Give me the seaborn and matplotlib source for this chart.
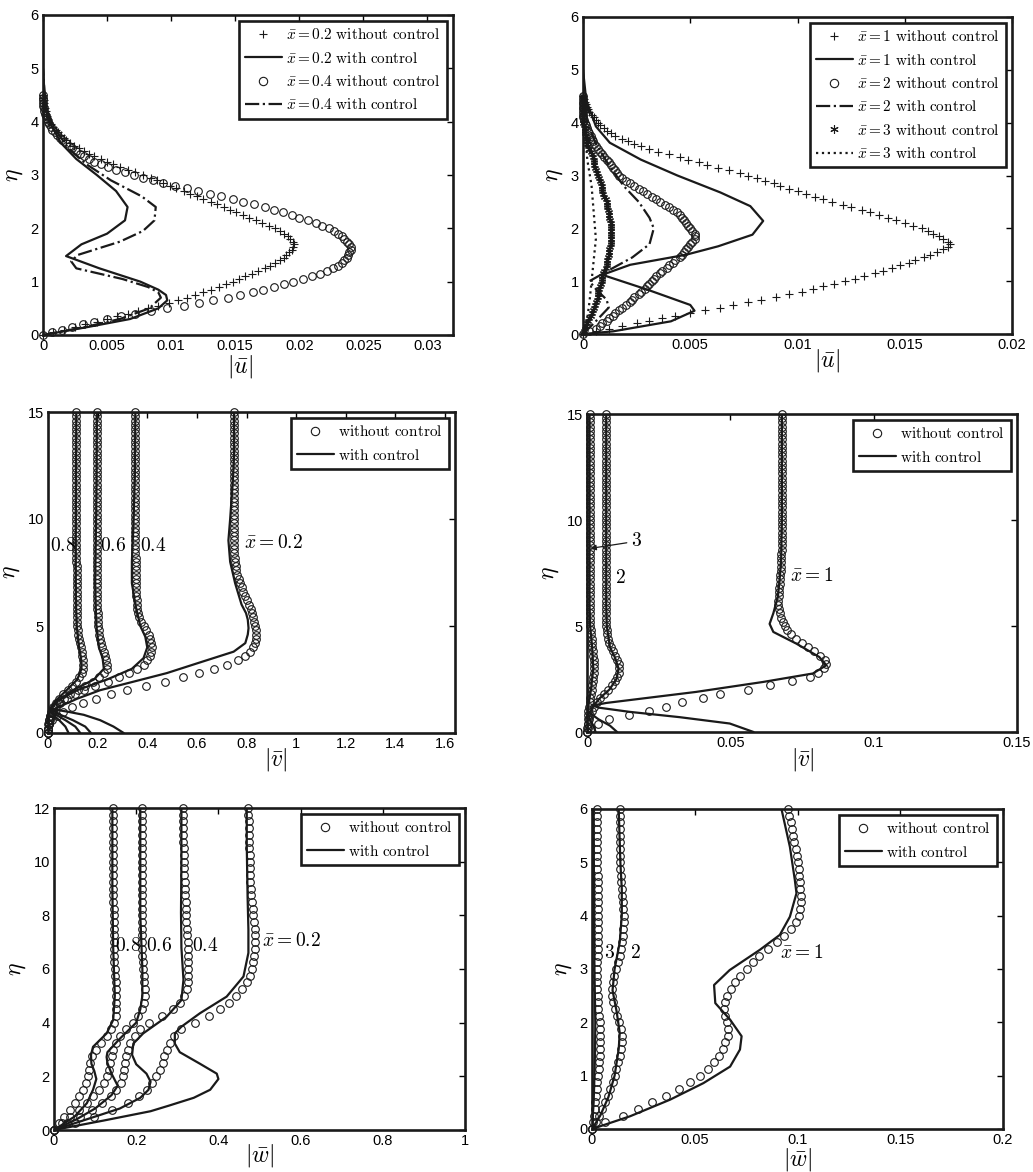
import matplotlib
matplotlib.use("Agg")
import matplotlib.pyplot as plt
from matplotlib.lines import Line2D
import seaborn as sns

# ---- data: |u| (eta 0..4.5, step 0.05) ----
eta_u = [0.0, 0.05, 0.1, 0.15, 0.2, 0.25, 0.3, 0.35, 0.4, 0.45,
         0.5, 0.55, 0.6, 0.65, 0.7, 0.75, 0.8, 0.85, 0.9, 0.95,
         1.0, 1.05, 1.1, 1.15, 1.2, 1.25, 1.3, 1.35, 1.4, 1.45,
         1.5, 1.55, 1.6, 1.65, 1.7, 1.75, 1.8, 1.85, 1.9, 1.95,
         2.0, 2.05, 2.1, 2.15, 2.2, 2.25, 2.3, 2.35, 2.4, 2.45,
         2.5, 2.55, 2.6, 2.65, 2.7, 2.75, 2.8, 2.85, 2.9, 2.95,
         3.0, 3.05, 3.1, 3.15, 3.2, 3.25, 3.3, 3.35, 3.4, 3.45,
         3.5, 3.55, 3.6, 3.65, 3.7, 3.75, 3.8, 3.85, 3.9, 3.95,
         4.0, 4.05, 4.1, 4.15, 4.2, 4.25, 4.3, 4.35, 4.4, 4.45,
         4.5]
u02_wo = [0.0, 0.0008, 0.0016, 0.0025, 0.0033, 0.0042, 0.0050, 0.0058, 0.0066, 0.0074,
          0.0082, 0.0090, 0.0098, 0.0105, 0.0112, 0.0119, 0.0125, 0.0131, 0.0137, 0.0143,
          0.0148, 0.0153, 0.0158, 0.0163, 0.0168, 0.0173, 0.0177, 0.0181, 0.0185, 0.0188,
          0.0190, 0.0192, 0.0194, 0.0195, 0.0196, 0.0195, 0.0193, 0.0191, 0.0188, 0.0185,
          0.0181, 0.0176, 0.0171, 0.0166, 0.0161, 0.0156, 0.0151, 0.0146, 0.0141, 0.0136,
          0.0131, 0.0125, 0.0120, 0.0115, 0.0110, 0.0104, 0.0099, 0.0094, 0.0089, 0.0084,
          0.0078, 0.0072, 0.0066, 0.0060, 0.0055, 0.0050, 0.0045, 0.0040, 0.0036, 0.0032,
          0.0028, 0.0024, 0.0021, 0.0018, 0.0016, 0.0014, 0.0012, 0.0010, 0.0008, 0.0006,
          0.0005, 0.0004, 0.0003, 0.00025, 0.0002, 0.00015, 0.0001, 0.00008, 0.00005, 0.00002,
          0.0]
u04_wo = [0.0, 0.0007, 0.0015, 0.0023, 0.0031, 0.0040, 0.0050, 0.0061, 0.0072, 0.0084,
          0.0097, 0.0110, 0.0122, 0.0133, 0.0144, 0.0154, 0.0164, 0.0172, 0.0180, 0.0188,
          0.0195, 0.0203, 0.0210, 0.0216, 0.0222, 0.0226, 0.0230, 0.0233, 0.0235, 0.0237,
          0.0238, 0.0239, 0.0240, 0.0240, 0.0239, 0.0237, 0.0235, 0.0233, 0.0230, 0.0227,
          0.0223, 0.0218, 0.0213, 0.0207, 0.0200, 0.0194, 0.0187, 0.0180, 0.0173, 0.0165,
          0.0156, 0.0148, 0.0139, 0.0130, 0.0121, 0.0112, 0.0103, 0.0094, 0.0086, 0.0078,
          0.0071, 0.0064, 0.0057, 0.0051, 0.0045, 0.0040, 0.0036, 0.0032, 0.0029, 0.0026,
          0.0023, 0.0020, 0.0018, 0.0015, 0.0013, 0.0011, 0.0009, 0.0007, 0.0006, 0.0005,
          0.0004, 0.0003, 0.0002, 0.00015, 0.0001, 0.00005, 0.0, 0.0, 0.0, 0.0,
          0.0]
eta_u02_wc = [0, 0.15, 0.3, 0.5, 0.65, 0.75, 0.85, 1.0, 1.25, 1.48, 1.7, 1.9, 2.15,
              2.4, 2.7, 3.0, 3.3, 3.6, 4.0, 4.3, 4.6, 5.0, 6.0]
u02_wc = [0, 0.0035, 0.0068, 0.0090, 0.0097, 0.0096, 0.0090, 0.0076, 0.0044, 0.0018, 0.0030,
          0.0050, 0.0064, 0.0066, 0.0057, 0.0042, 0.0026, 0.0014, 0.0005, 0.0002, 0.0001, 0.0, 0.0]
eta_u04_wc = [0, 0.15, 0.3, 0.5, 0.7, 0.8, 0.9, 1.05, 1.25, 1.38, 1.5, 1.75, 1.95, 2.15,
              2.4, 2.6, 2.9, 3.2, 3.5, 3.8, 4.2, 4.6, 5.0]
u04_wc = [0, 0.0033, 0.0060, 0.0083, 0.0092, 0.0090, 0.0082, 0.0062, 0.0026, 0.0022, 0.0027,
          0.0060, 0.0078, 0.0087, 0.0088, 0.0077, 0.0053, 0.0034, 0.0020, 0.0011, 0.0003, 0.0001, 0.0]

u1_wo = [0.0, 0.0006, 0.0012, 0.0018, 0.0025, 0.0031, 0.0037, 0.0043, 0.0050, 0.0057,
         0.0064, 0.0070, 0.0077, 0.0083, 0.0090, 0.0096, 0.0102, 0.0107, 0.0112, 0.0117,
         0.0122, 0.0127, 0.0131, 0.0136, 0.0140, 0.0144, 0.0148, 0.0152, 0.0155, 0.0159,
         0.0162, 0.0165, 0.0168, 0.0170, 0.0171, 0.0170, 0.0168, 0.0166, 0.0163, 0.0161,
         0.0158, 0.0154, 0.0150, 0.0146, 0.0142, 0.0138, 0.0134, 0.0130, 0.0125, 0.0121,
         0.0116, 0.0112, 0.0108, 0.0104, 0.0100, 0.0096, 0.0092, 0.0089, 0.0085, 0.0081,
         0.0077, 0.0073, 0.0068, 0.0063, 0.0058, 0.0054, 0.0049, 0.0045, 0.0040, 0.0035,
         0.0031, 0.0027, 0.0024, 0.0021, 0.0018, 0.0015, 0.0013, 0.0011, 0.0010, 0.0008,
         0.0007, 0.0006, 0.0005, 0.0004, 0.0003, 0.00025, 0.0002, 0.00015, 0.0001, 0.00005,
         0.0]
u2_wo = [0.0, 0.0003, 0.0006, 0.0008, 0.0009, 0.0011, 0.0012, 0.0014, 0.0015, 0.0017,
         0.0018, 0.0020, 0.0022, 0.0023, 0.0024, 0.0026, 0.0027, 0.0029, 0.0030, 0.0031,
         0.0032, 0.0033, 0.0034, 0.0036, 0.0037, 0.0039, 0.0040, 0.0042, 0.0043, 0.0045,
         0.0046, 0.0047, 0.0048, 0.0049, 0.0050, 0.0051, 0.0052, 0.0052, 0.0052, 0.0051,
         0.0050, 0.0049, 0.0048, 0.0047, 0.0046, 0.0045, 0.0044, 0.0042, 0.0040, 0.0038,
         0.0036, 0.0034, 0.0032, 0.0030, 0.0028, 0.0026, 0.0024, 0.0022, 0.0020, 0.0018,
         0.0017, 0.0016, 0.0015, 0.0014, 0.0013, 0.0012, 0.0011, 0.0010, 0.0009, 0.0008,
         0.0007, 0.0006, 0.0005, 0.00045, 0.0004, 0.00035, 0.0003, 0.00025, 0.0002, 0.00015,
         0.0001, 0.00005, 0.0, 0.0, 0.0, 0.0, 0.0, 0.0, 0.0, 0.0,
         0.0]
u3_wo = [0.0, 0.00005, 0.0001, 0.00015, 0.0002, 0.00025, 0.0003, 0.00035, 0.0004, 0.00045,
         0.0005, 0.00055, 0.0006, 0.00065, 0.0007, 0.0007, 0.0007, 0.00075, 0.0008, 0.00085,
         0.0009, 0.0009, 0.0009, 0.00095, 0.0010, 0.00105, 0.0011, 0.0011, 0.0011, 0.00115,
         0.0012, 0.0012, 0.0012, 0.00125, 0.0013, 0.0013, 0.0013, 0.0013, 0.0013, 0.0013,
         0.0013, 0.0013, 0.0013, 0.00125, 0.0012, 0.0012, 0.0012, 0.00115, 0.0011, 0.0011,
         0.0011, 0.00105, 0.0010, 0.00095, 0.0009, 0.0009, 0.0009, 0.00085, 0.0008, 0.00075,
         0.0007, 0.00065, 0.0006, 0.00055, 0.0005, 0.0005, 0.0005, 0.00045, 0.0004, 0.00035,
         0.0003, 0.00025, 0.0002, 0.0002, 0.0002, 0.00015, 0.0001, 0.0001, 0.0001, 0.00005,
         0.0, 0.0, 0.0, 0.0, 0.0, 0.0, 0.0, 0.0, 0.0, 0.0,
         0.0]
eta_u1_wc = [0, 0.05, 0.24, 0.44, 0.55, 0.84, 1.12, 1.31, 1.5, 1.66, 1.88, 2.14, 2.42,
             2.68, 3.0, 3.3, 3.62, 3.93, 4.43, 5.0, 6.0]
u1_wc = [0, 0.0014, 0.0041, 0.0052, 0.0050, 0.0030, 0.0009, 0.0022, 0.0048, 0.0063, 0.0079,
         0.0084, 0.0078, 0.0064, 0.0044, 0.0027, 0.00125, 0.0006, 0.00015, 0.0, 0.0]
eta_u2_wc = [0, 0.2, 0.5, 0.65, 0.85, 1.0, 1.25, 1.45, 1.7, 2.0, 2.2, 2.5, 2.8, 3.2, 3.6,
             4.0, 4.5, 5.0]
u2_wc = [0, 0.0005, 0.0012, 0.0011, 0.0006, 0.0003, 0.0014, 0.0023, 0.0031, 0.0033, 0.0031,
         0.0026, 0.0019, 0.0012, 0.0006, 0.0002, 0.0, 0.0]
eta_u3_wc = [0, 0.3, 0.6, 1.0, 1.4, 1.8, 2.3, 2.8, 3.3, 3.8, 4.3, 5.0]
u3_wc = [0, 0.0002, 0.0003, 0.0004, 0.0005, 0.0006, 0.0005, 0.0004, 0.0002, 0.0001, 0.0, 0.0]

# ---- data: |v| (eta 0..15, step 0.2) ----
eta_v = [0.0, 0.2, 0.4, 0.6, 0.8, 1.0, 1.2, 1.4, 1.6, 1.8,
         2.0, 2.2, 2.4, 2.6, 2.8, 3.0, 3.2, 3.4, 3.6, 3.8,
         4.0, 4.2, 4.4, 4.6, 4.8, 5.0, 5.2, 5.4, 5.6, 5.8,
         6.0, 6.2, 6.4, 6.6, 6.8, 7.0, 7.2, 7.4, 7.6, 7.8,
         8.0, 8.2, 8.4, 8.6, 8.8, 9.0, 9.2, 9.4, 9.6, 9.8,
         10.0, 10.2, 10.4, 10.6, 10.8, 11.0, 11.2, 11.4, 11.6, 11.8,
         12.0, 12.2, 12.4, 12.6, 12.8, 13.0, 13.2, 13.4, 13.6, 13.8,
         14.0, 14.2, 14.4, 14.6, 14.8, 15.0]
v02_wo = [0.0, 0.002, 0.006, 0.018, 0.036, 0.062, 0.095, 0.140, 0.195, 0.255,
          0.320, 0.395, 0.470, 0.545, 0.610, 0.670, 0.720, 0.765, 0.795, 0.815,
          0.828, 0.836, 0.840, 0.840, 0.838, 0.835, 0.831, 0.827, 0.822, 0.816,
          0.810, 0.802, 0.794, 0.787, 0.780, 0.775, 0.769, 0.763, 0.759, 0.756,
          0.754, 0.752, 0.751, 0.750, 0.750, 0.750, 0.750, 0.750, 0.750, 0.750,
          0.750, 0.750, 0.750, 0.750, 0.750, 0.750, 0.750, 0.750, 0.750, 0.750,
          0.750, 0.750, 0.750, 0.750, 0.750, 0.750, 0.750, 0.750, 0.750, 0.750,
          0.750, 0.750, 0.750, 0.750, 0.750, 0.750]
v04_wo = [0.0, 0.001, 0.004, 0.008, 0.013, 0.020, 0.033, 0.050, 0.076, 0.108,
          0.144, 0.190, 0.240, 0.285, 0.325, 0.358, 0.385, 0.400, 0.410, 0.417,
          0.419, 0.417, 0.412, 0.405, 0.395, 0.385, 0.376, 0.368, 0.363, 0.360,
          0.358, 0.357, 0.356, 0.355, 0.355, 0.354, 0.354, 0.353, 0.353, 0.353,
          0.353, 0.353, 0.352, 0.352, 0.352, 0.352, 0.352, 0.352, 0.352, 0.352,
          0.352, 0.352, 0.352, 0.352, 0.352, 0.352, 0.352, 0.352, 0.352, 0.352,
          0.352, 0.352, 0.352, 0.352, 0.352, 0.352, 0.352, 0.352, 0.352, 0.352,
          0.352, 0.352, 0.352, 0.352, 0.352, 0.352]
v06_wo = [0.0, 0.001, 0.003, 0.006, 0.010, 0.018, 0.030, 0.046, 0.066, 0.090,
          0.120, 0.150, 0.180, 0.205, 0.225, 0.237, 0.238, 0.235, 0.230, 0.224,
          0.218, 0.213, 0.209, 0.206, 0.204, 0.203, 0.202, 0.201, 0.200, 0.199,
          0.199, 0.198, 0.198, 0.198, 0.197, 0.197, 0.197, 0.197, 0.197, 0.197,
          0.197, 0.197, 0.197, 0.197, 0.197, 0.197, 0.197, 0.197, 0.197, 0.197,
          0.197, 0.197, 0.197, 0.197, 0.197, 0.197, 0.197, 0.197, 0.197, 0.197,
          0.197, 0.197, 0.197, 0.197, 0.197, 0.197, 0.197, 0.197, 0.197, 0.197,
          0.197, 0.197, 0.197, 0.197, 0.197, 0.197]
v08_wo = [0.0, 0.001, 0.002, 0.004, 0.008, 0.014, 0.022, 0.033, 0.046, 0.062,
          0.080, 0.097, 0.112, 0.125, 0.135, 0.141, 0.143, 0.142, 0.139, 0.135,
          0.131, 0.127, 0.124, 0.121, 0.119, 0.118, 0.117, 0.116, 0.116, 0.115,
          0.115, 0.115, 0.115, 0.115, 0.115, 0.115, 0.115, 0.115, 0.115, 0.115,
          0.114, 0.114, 0.114, 0.114, 0.114, 0.114, 0.114, 0.114, 0.114, 0.114,
          0.114, 0.114, 0.114, 0.114, 0.114, 0.114, 0.114, 0.114, 0.114, 0.114,
          0.114, 0.114, 0.114, 0.114, 0.114, 0.114, 0.114, 0.114, 0.114, 0.114,
          0.114, 0.114, 0.114, 0.114, 0.114, 0.114]
eta_v02_wc = [0, 0.3, 0.6, 0.85, 1.0, 1.1, 1.2, 1.6, 2.0, 2.4, 2.8, 3.3, 3.8, 4.2, 4.6,
              4.9, 5.3, 5.6, 6.0, 7.0, 8.0, 9.0, 10.0, 11.0, 12.0, 13.0, 15.0]
v02_wc = [0.305, 0.264, 0.21, 0.144, 0.077, 0.025, 0.04, 0.117, 0.21, 0.345, 0.479, 0.613,
          0.748, 0.795, 0.805, 0.808, 0.805, 0.798, 0.780, 0.754, 0.734, 0.727, 0.734,
          0.740, 0.746, 0.750, 0.750]
eta_v04_wc = [0, 0.3, 0.6, 0.9, 1.1, 1.5, 2.0, 2.5, 3.0, 3.5, 4.0, 4.5, 5.0, 6.0, 7.0,
              8.0, 10.0, 12.0, 15.0]
v04_wc = [0.173, 0.15, 0.10, 0.04, 0.012, 0.036, 0.117, 0.238, 0.338, 0.385, 0.40, 0.392,
          0.372, 0.352, 0.338, 0.338, 0.345, 0.350, 0.352]
eta_v06_wc = [0, 0.3, 0.6, 0.9, 1.1, 1.5, 2.0, 2.5, 3.0, 3.5, 4.0, 5.0, 6.0, 7.0, 8.0,
              10.0, 12.0, 15.0]
v06_wc = [0.13, 0.11, 0.07, 0.025, 0.01, 0.04, 0.10, 0.185, 0.225, 0.220, 0.205, 0.195,
          0.192, 0.190, 0.191, 0.194, 0.196, 0.197]
eta_v08_wc = [0, 0.3, 0.6, 0.9, 1.1, 1.5, 2.0, 2.5, 3.0, 3.5, 4.0, 5.0, 6.0, 7.0, 9.0,
              12.0, 15.0]
v08_wc = [0.083, 0.07, 0.045, 0.015, 0.006, 0.03, 0.075, 0.118, 0.135, 0.133, 0.125,
          0.116, 0.113, 0.112, 0.112, 0.113, 0.114]

v1_wo = [0.0, 0.0015, 0.0040, 0.0075, 0.0145, 0.0215, 0.0275, 0.0330, 0.0405, 0.0465,
         0.0560, 0.0640, 0.0715, 0.0777, 0.0805, 0.0825, 0.0835, 0.0830, 0.0812, 0.0792,
         0.0771, 0.0750, 0.0728, 0.0710, 0.0698, 0.0690, 0.0683, 0.0677, 0.0673, 0.0670,
         0.0668, 0.0668, 0.0669, 0.0670, 0.0671, 0.0672, 0.0673, 0.0674, 0.0675, 0.0676,
         0.0677, 0.0678, 0.0678, 0.0679, 0.0679, 0.0680, 0.0680, 0.0680, 0.0680, 0.0680,
         0.0680, 0.0680, 0.0680, 0.0680, 0.0680, 0.0680, 0.0680, 0.0680, 0.0680, 0.0680,
         0.0680, 0.0680, 0.0680, 0.0680, 0.0680, 0.0680, 0.0680, 0.0680, 0.0680, 0.0680,
         0.0680, 0.0680, 0.0680, 0.0680, 0.0680, 0.0680]
v2_wo = [0.0, 0.0002, 0.0004, 0.0007, 0.0011, 0.0016, 0.0024, 0.0034, 0.0046, 0.0060,
         0.0074, 0.0087, 0.0098, 0.0106, 0.0111, 0.0112, 0.0110, 0.0105, 0.0098, 0.0090,
         0.0083, 0.0078, 0.0074, 0.0071, 0.0069, 0.0068, 0.0067, 0.0067, 0.0067, 0.0067,
         0.0067, 0.0067, 0.0067, 0.0067, 0.0067, 0.0067, 0.0067, 0.0067, 0.0067, 0.0067,
         0.0067, 0.0067, 0.0067, 0.0067, 0.0067, 0.0067, 0.0067, 0.0067, 0.0067, 0.0067,
         0.0067, 0.0067, 0.0067, 0.0067, 0.0067, 0.0067, 0.0067, 0.0067, 0.0067, 0.0067,
         0.0067, 0.0067, 0.0067, 0.0067, 0.0067, 0.0067, 0.0067, 0.0067, 0.0067, 0.0067,
         0.0067, 0.0067, 0.0067, 0.0067, 0.0067, 0.0067]
v3_wo = [0.0, 0.0001, 0.0002, 0.0003, 0.0004, 0.0005, 0.0007, 0.0009, 0.0011, 0.0013,
         0.0016, 0.0018, 0.0020, 0.0022, 0.0023, 0.0024, 0.0024, 0.0023, 0.0022, 0.0020,
         0.0019, 0.0017, 0.0016, 0.0014, 0.0013, 0.0012, 0.0011, 0.0011, 0.0010, 0.0010,
         0.0010, 0.0009, 0.0009, 0.0009, 0.0009, 0.0009, 0.0009, 0.0009, 0.0009, 0.0009,
         0.0009, 0.0009, 0.0009, 0.0009, 0.0009, 0.0009, 0.0009, 0.0009, 0.0009, 0.0009,
         0.0009, 0.0009, 0.0009, 0.0009, 0.0009, 0.0009, 0.0009, 0.0009, 0.0009, 0.0009,
         0.0009, 0.0009, 0.0009, 0.0009, 0.0009, 0.0009, 0.0009, 0.0009, 0.0009, 0.0009,
         0.0009, 0.0009, 0.0009, 0.0009, 0.0009, 0.0009]
eta_v1_wc = [0, 0.4, 0.7, 0.95, 1.15, 1.25, 1.37, 1.89, 2.36, 2.76, 3.15, 3.54, 4.17,
             4.72, 5.1, 5.6, 6.4, 7.2, 8.0, 10.0, 15.0]
v1_wc = [0.0581, 0.0498, 0.0323, 0.0149, 0.004, 0.002, 0.0067, 0.038, 0.0614, 0.0788,
         0.0835, 0.081, 0.073, 0.065, 0.0637, 0.065, 0.0666, 0.0672, 0.0677, 0.068, 0.068]
eta_v2_wc = [0, 0.3, 0.6, 0.9, 1.2, 1.6, 2.0, 2.5, 3.0, 3.5, 4.0, 5.0, 6.0, 8.0, 15.0]
v2_wc = [0.0105, 0.008, 0.004, 0.001, 0.002, 0.0045, 0.0078, 0.0103, 0.0110, 0.0098,
         0.0080, 0.0069, 0.0067, 0.0067, 0.0067]
eta_v3_wc = [0, 0.3, 0.6, 0.9, 1.2, 2.0, 3.0, 4.0, 5.0, 6.0, 15.0]
v3_wc = [0.0030, 0.0022, 0.0010, 0.0003, 0.0004, 0.0014, 0.0022, 0.0018, 0.0011, 0.0009, 0.0009]

# ---- data: |w| x = 0.2..0.8 (eta 0..12, step 0.25) ----
eta_w = [0.0, 0.25, 0.5, 0.75, 1.0, 1.25, 1.5, 1.75,
         2.0, 2.25, 2.5, 2.75, 3.0, 3.25, 3.5, 3.75,
         4.0, 4.25, 4.5, 4.75, 5.0, 5.25, 5.5, 5.75,
         6.0, 6.25, 6.5, 6.75, 7.0, 7.25, 7.5, 7.75,
         8.0, 8.25, 8.5, 8.75, 9.0, 9.25, 9.5, 9.75,
         10.0, 10.25, 10.5, 10.75, 11.0, 11.25, 11.5, 11.75,
         12.0]
w02_wo = [0.0, 0.052, 0.098, 0.140, 0.180, 0.208, 0.227, 0.239,
          0.248, 0.258, 0.264, 0.268, 0.274, 0.282, 0.293, 0.308,
          0.343, 0.378, 0.405, 0.427, 0.444, 0.458, 0.469, 0.476,
          0.481, 0.484, 0.486, 0.488, 0.489, 0.489, 0.488, 0.486,
          0.484, 0.483, 0.482, 0.480, 0.479, 0.478, 0.477, 0.477,
          0.476, 0.476, 0.475, 0.475, 0.474, 0.474, 0.474, 0.473,
          0.473]
w04_wo = [0.0, 0.032, 0.063, 0.092, 0.118, 0.138, 0.152, 0.162,
          0.168, 0.171, 0.173, 0.175, 0.180, 0.186, 0.196, 0.210,
          0.230, 0.262, 0.290, 0.306, 0.317, 0.323, 0.326, 0.327,
          0.327, 0.327, 0.326, 0.326, 0.325, 0.324, 0.323, 0.322,
          0.322, 0.321, 0.320, 0.319, 0.318, 0.318, 0.317, 0.317,
          0.316, 0.316, 0.316, 0.315, 0.315, 0.315, 0.315, 0.315,
          0.315]
w06_wo = [0.0, 0.020, 0.040, 0.060, 0.080, 0.096, 0.110, 0.121,
          0.129, 0.134, 0.137, 0.140, 0.144, 0.151, 0.160, 0.176,
          0.193, 0.205, 0.213, 0.218, 0.221, 0.221, 0.220, 0.219,
          0.217, 0.216, 0.215, 0.215, 0.214, 0.214, 0.214, 0.214,
          0.214, 0.214, 0.213, 0.213, 0.213, 0.213, 0.213, 0.213,
          0.213, 0.213, 0.213, 0.213, 0.213, 0.213, 0.213, 0.213,
          0.213]
w08_wo = [0.0, 0.013, 0.025, 0.038, 0.050, 0.061, 0.071, 0.078,
          0.083, 0.085, 0.087, 0.093, 0.103, 0.115, 0.128, 0.138,
          0.146, 0.150, 0.152, 0.152, 0.152, 0.151, 0.150, 0.149,
          0.148, 0.147, 0.147, 0.146, 0.146, 0.145, 0.145, 0.145,
          0.145, 0.145, 0.144, 0.144, 0.144, 0.144, 0.144, 0.144,
          0.144, 0.144, 0.144, 0.144, 0.144, 0.144, 0.144, 0.144,
          0.144]
eta_w02_wc = [0, 0.35, 0.7, 0.91, 1.2, 1.5, 1.9, 2.1, 2.47, 2.9, 3.22, 3.6, 3.85, 4.35,
              4.97, 5.72, 6.6, 7.47, 8.7, 10.6, 12.0]
w02_wc = [0, 0.12, 0.235, 0.28, 0.34, 0.38, 0.40, 0.396, 0.355, 0.306, 0.294, 0.294, 0.31,
          0.355, 0.42, 0.461, 0.473, 0.473, 0.471, 0.469, 0.469]
eta_w04_wc = [0, 0.4, 0.8, 1.2, 1.5, 1.8, 2.1, 2.45, 2.8, 3.22, 3.6, 4.22, 4.84, 5.6, 6.8,
              8.1, 10.0, 12.0]
w04_wc = [0, 0.08, 0.16, 0.21, 0.23, 0.235, 0.225, 0.20, 0.19, 0.193, 0.217, 0.274, 0.31,
          0.315, 0.31, 0.309, 0.31, 0.31]
eta_w06_wc = [0, 0.4, 0.8, 1.3, 1.65, 2.1, 2.5, 2.72, 2.9, 3.4, 4.0, 4.5, 5.0, 6.0, 8.0, 12.0]
w06_wc = [0, 0.055, 0.10, 0.14, 0.155, 0.14, 0.13, 0.128, 0.13, 0.16, 0.20, 0.21, 0.215,
          0.215, 0.21, 0.21]
eta_w08_wc = [0, 0.5, 1.0, 1.5, 1.9, 2.2, 2.47, 2.8, 3.1, 3.6, 4.1, 5.0, 6.8, 9.0, 12.0]
w08_wc = [0, 0.05, 0.08, 0.095, 0.103, 0.098, 0.091, 0.090, 0.095, 0.128, 0.144, 0.148,
          0.144, 0.142, 0.142]

# ---- data: |w| x = 1..3 (eta 0..6, step 0.125) ----
eta_w1 = [0.0, 0.125, 0.25, 0.375, 0.5, 0.625, 0.75, 0.875,
          1.0, 1.125, 1.25, 1.375, 1.5, 1.625, 1.75, 1.875,
          2.0, 2.125, 2.25, 2.375, 2.5, 2.625, 2.75, 2.875,
          3.0, 3.125, 3.25, 3.375, 3.5, 3.625, 3.75, 3.875,
          4.0, 4.125, 4.25, 4.375, 4.5, 4.625, 4.75, 4.875,
          5.0, 5.125, 5.25, 5.375, 5.5, 5.625, 5.75, 5.875,
          6.0]
w1_wo = [0.0, 0.0065, 0.0150, 0.0222, 0.0292, 0.0360, 0.0422, 0.0478,
         0.0526, 0.0565, 0.0593, 0.0619, 0.0636, 0.0649, 0.0660, 0.0662,
         0.0655, 0.0645, 0.0640, 0.0645, 0.0658, 0.0675, 0.0696, 0.0722,
         0.0752, 0.0782, 0.0815, 0.0855, 0.0898, 0.0935, 0.0968, 0.0992,
         0.1006, 0.1013, 0.1016, 0.1016, 0.1014, 0.1011, 0.1008, 0.1005,
         0.1002, 0.0998, 0.0991, 0.0985, 0.0979, 0.0973, 0.0967, 0.0961,
         0.0955]
w2_wo = [0.0, 0.0020, 0.0035, 0.0050, 0.0063, 0.0076, 0.0088, 0.0100,
         0.0110, 0.0119, 0.0127, 0.0134, 0.0140, 0.0145, 0.0146, 0.0142,
         0.0133, 0.0122, 0.0110, 0.0102, 0.0098, 0.0097, 0.0101, 0.0108,
         0.0117, 0.0126, 0.0135, 0.0143, 0.0148, 0.0151, 0.0153, 0.0154,
         0.0154, 0.0153, 0.0151, 0.0148, 0.0145, 0.0142, 0.0139, 0.0137,
         0.0136, 0.0135, 0.0135, 0.0134, 0.0134, 0.0134, 0.0134, 0.0134,
         0.0134]
w3_wo = [0.0, 0.0006, 0.0010, 0.0014, 0.0017, 0.0020, 0.0023, 0.0026,
         0.0029, 0.0032, 0.0035, 0.0037, 0.0039, 0.0040, 0.0040, 0.0039,
         0.0037, 0.0034, 0.0031, 0.0029, 0.0027, 0.0026, 0.0025, 0.0025,
         0.0025, 0.0026, 0.0027, 0.0028, 0.0029, 0.0029, 0.0030, 0.0030,
         0.0030, 0.0029, 0.0029, 0.0028, 0.0028, 0.0027, 0.0027, 0.0026,
         0.0026, 0.0026, 0.0025, 0.0025, 0.0025, 0.0025, 0.0024, 0.0024,
         0.0024]
eta_w1_wc = [0, 0.24, 0.55, 0.86, 1.17, 1.49, 1.74, 2.05, 2.36, 2.7, 2.98, 3.36, 3.64,
             3.98, 4.42, 4.67, 5.29, 6.0]
w1_wc = [0, 0.0186, 0.038, 0.0542, 0.0672, 0.072, 0.0728, 0.0672, 0.060, 0.0594, 0.067,
         0.0817, 0.0914, 0.0963, 0.0995, 0.0987, 0.0963, 0.0922]
eta_w2_wc = [0, 0.25, 0.6, 1.0, 1.5, 1.8, 2.2, 2.6, 3.0, 3.5, 4.0, 4.5, 5.0, 6.0]
w2_wc = [0, 0.004, 0.008, 0.011, 0.013, 0.0135, 0.012, 0.010, 0.011, 0.0135, 0.0145,
         0.0145, 0.0138, 0.013]
eta_w3_wc = [0, 0.5, 1.0, 1.5, 2.0, 2.5, 3.0, 4.0, 5.0, 6.0]
w3_wc = [0, 0.0008, 0.0012, 0.0015, 0.0016, 0.0014, 0.0012, 0.0010, 0.0009, 0.0008]

# ---- style ----
sns.set_theme(style="white")
plt.rcParams["font.family"] = ["Liberation Sans", "DejaVu Sans"]
plt.rcParams["mathtext.fontset"] = "cm"
plt.rcParams["text.color"] = "black"
plt.rcParams["axes.labelcolor"] = "black"
plt.rcParams["xtick.color"] = "black"
plt.rcParams["ytick.color"] = "black"

W, H = 1033, 1172
fig = plt.figure(figsize=(W / 100, H / 100), dpi=100)

STAR = (6, 2, 0)   # asterisk marker


def new_axes(l, r, t, b):
    return fig.add_axes([l / W, 1 - b / H, (r - l) / W, (b - t) / H])


def markers(ax, vals, eta, m, ms=5.5):
    sns.lineplot(x=vals, y=eta, sort=False, estimator=None, ax=ax, color="k",
                 linestyle="", marker=m, markersize=ms, markerfacecolor="none",
                 markeredgecolor="k", markeredgewidth=0.8, clip_on=False)


def curve(ax, vals, eta, ls="-"):
    sns.lineplot(x=vals, y=eta, sort=False, estimator=None, ax=ax, color="k",
                 linewidth=1.6, linestyle=ls)


def finish(ax, xlim, xticks, ylim, yticks, xlabel, lab_xy):
    ax.set_xlim(*xlim)
    ax.set_ylim(*ylim)
    ax.set_xticks(xticks)
    ax.set_xticklabels(["%g" % t for t in xticks])
    ax.set_yticks(yticks)
    ax.set_yticklabels(["%g" % t for t in yticks])
    ax.set_xlabel(xlabel, fontsize=17)
    ax.xaxis.set_label_coords(*lab_xy)
    ax.set_ylabel(r"$\eta$", fontsize=17, labelpad=4)
    ax.tick_params(direction="in", top=True, right=True, length=4, width=1,
                   labelsize=10.5, pad=3)
    for s in ax.spines.values():
        s.set_linewidth(1.9)
        s.set_color("k")


def legend(ax, handles, labels):
    leg = ax.legend(handles, labels, loc="upper right", fontsize=11, frameon=True,
                    fancybox=False, edgecolor="k", framealpha=1, handlelength=2.4,
                    handletextpad=0.3, labelspacing=0.55, borderpad=0.4,
                    borderaxespad=0.4, numpoints=1)
    leg.get_frame().set_linewidth(1.9)


def h_mark(m):
    return Line2D([], [], linestyle="", marker=m, color="k", markersize=6,
                  markerfacecolor="none", markeredgewidth=0.8)


def h_line(ls):
    return Line2D([], [], linestyle=ls, color="k", linewidth=1.6)


wo_wc_handles = [h_mark("o"), h_line("-")]
wo_wc_labels = [r"$\mathrm{without\ control}$", r"$\mathrm{with\ control}$"]

# ---- top left ----
ax = new_axes(43, 453, 15, 335)
markers(ax, u02_wo, eta_u, "+", 6)
curve(ax, u02_wc, eta_u02_wc, "-")
markers(ax, u04_wo, eta_u, "o")
curve(ax, u04_wc, eta_u04_wc, "-.")
finish(ax, (0, 0.032), [0, 0.005, 0.01, 0.015, 0.02, 0.025, 0.03], (0, 6),
       [0, 1, 2, 3, 4, 5, 6], r"$|\bar{u}|$", (0.48, -0.055))
legend(ax, [h_mark("+"), h_line("-"), h_mark("o"), h_line("-.")],
       [r"$\bar{x}=0.2\ \mathrm{without\ control}$", r"$\bar{x}=0.2\ \mathrm{with\ control}$",
        r"$\bar{x}=0.4\ \mathrm{without\ control}$", r"$\bar{x}=0.4\ \mathrm{with\ control}$"])

# ---- top right ----
ax = new_axes(583, 1012, 17, 334)
markers(ax, u1_wo, eta_u, "+", 6)
curve(ax, u1_wc, eta_u1_wc, "-")
markers(ax, u2_wo, eta_u, "o")
curve(ax, u2_wc, eta_u2_wc, "-.")
markers(ax, u3_wo, eta_u, STAR, 5)
curve(ax, u3_wc, eta_u3_wc, ":")
finish(ax, (0, 0.02), [0, 0.005, 0.01, 0.015, 0.02], (0, 6),
       [0, 1, 2, 3, 4, 5, 6], r"$|\bar{u}|$", (0.569, -0.04))
legend(ax, [h_mark("+"), h_line("-"), h_mark("o"), h_line("-."), h_mark(STAR), h_line(":")],
       [r"$\bar{x}=1\ \mathrm{without\ control}$", r"$\bar{x}=1\ \mathrm{with\ control}$",
        r"$\bar{x}=2\ \mathrm{without\ control}$", r"$\bar{x}=2\ \mathrm{with\ control}$",
        r"$\bar{x}=3\ \mathrm{without\ control}$", r"$\bar{x}=3\ \mathrm{with\ control}$"])

# ---- middle left ----
ax = new_axes(48, 455, 412, 733)
for wo, wc, ewc in [(v02_wo, v02_wc, eta_v02_wc), (v04_wo, v04_wc, eta_v04_wc),
                    (v06_wo, v06_wc, eta_v06_wc), (v08_wo, v08_wc, eta_v08_wc)]:
    markers(ax, wo, eta_v, "o")
    curve(ax, wc, ewc)
finish(ax, (0, 1.64), [0, 0.2, 0.4, 0.6, 0.8, 1, 1.2, 1.4, 1.6], (0, 15),
       [0, 5, 10, 15], r"$|\bar{v}|$", (0.56, -0.04))
legend(ax, wo_wc_handles, wo_wc_labels)
for x, y, s in [(0.009, 8.75, r"$0.8$"), (0.211, 8.75, r"$0.6$"), (0.372, 8.75, r"$0.4$"),
                (0.788, 8.9, r"$\bar{x}=0.2$")]:
    ax.text(x, y, s, fontsize=14, ha="left", va="center")

# ---- middle right ----
ax = new_axes(587, 1017, 414, 732)
for wo, wc, ewc in [(v1_wo, v1_wc, eta_v1_wc), (v2_wo, v2_wc, eta_v2_wc),
                    (v3_wo, v3_wc, eta_v3_wc)]:
    markers(ax, wo, eta_v, "o")
    curve(ax, wc, ewc)
finish(ax, (0, 0.15), [0, 0.05, 0.1, 0.15], (0, 15), [0, 5, 10, 15], r"$|\bar{v}|$",
       (0.502, -0.045))
legend(ax, wo_wc_handles, wo_wc_labels)
ax.annotate(r"$3$", xy=(0.0012, 8.66), xytext=(0.0155, 9.0), fontsize=14, ha="left",
            va="center", arrowprops=dict(arrowstyle="-|>", color="k", lw=0.9,
                                         mutation_scale=8, shrinkA=1, shrinkB=0))
ax.text(0.0097, 7.25, r"$2$", fontsize=14, ha="left", va="center")
ax.text(0.0707, 7.35, r"$\bar{x}=1$", fontsize=14, ha="left", va="center")

# ---- bottom left ----
ax = new_axes(54, 465, 808, 1130)
for wo, wc, ewc in [(w02_wo, w02_wc, eta_w02_wc), (w04_wo, w04_wc, eta_w04_wc),
                    (w06_wo, w06_wc, eta_w06_wc), (w08_wo, w08_wc, eta_w08_wc)]:
    markers(ax, wo, eta_w, "o")
    curve(ax, wc, ewc)
finish(ax, (0, 1), [0, 0.2, 0.4, 0.6, 0.8, 1], (0, 12), [0, 2, 4, 6, 8, 10, 12],
       r"$|\bar{w}|$", (0.499, -0.038))
legend(ax, wo_wc_handles, wo_wc_labels)
for x, y, s in [(0.148, 6.84, r"$0.8$"), (0.225, 6.84, r"$0.6$"), (0.335, 6.84, r"$0.4$"),
                (0.506, 7.03, r"$\bar{x}=0.2$")]:
    ax.text(x, y, s, fontsize=14, ha="left", va="center")

# ---- bottom right ----
ax = new_axes(592, 1003, 809, 1129)
for wo, wc, ewc in [(w1_wo, w1_wc, eta_w1_wc), (w2_wo, w2_wc, eta_w2_wc),
                    (w3_wo, w3_wc, eta_w3_wc)]:
    markers(ax, wo, eta_w1, "o")
    curve(ax, wc, ewc)
finish(ax, (0, 0.2), [0, 0.05, 0.1, 0.15, 0.2], (0, 6), [0, 1, 2, 3, 4, 5, 6],
       r"$|\bar{w}|$", (0.5, -0.052))
legend(ax, wo_wc_handles, wo_wc_labels)
for x, y, s in [(0.0057, 3.3, r"$3$"), (0.0186, 3.3, r"$2$"), (0.0914, 3.3, r"$\bar{x}=1$")]:
    ax.text(x, y, s, fontsize=14, ha="left", va="center")

fig.savefig("out.png", dpi=100)
